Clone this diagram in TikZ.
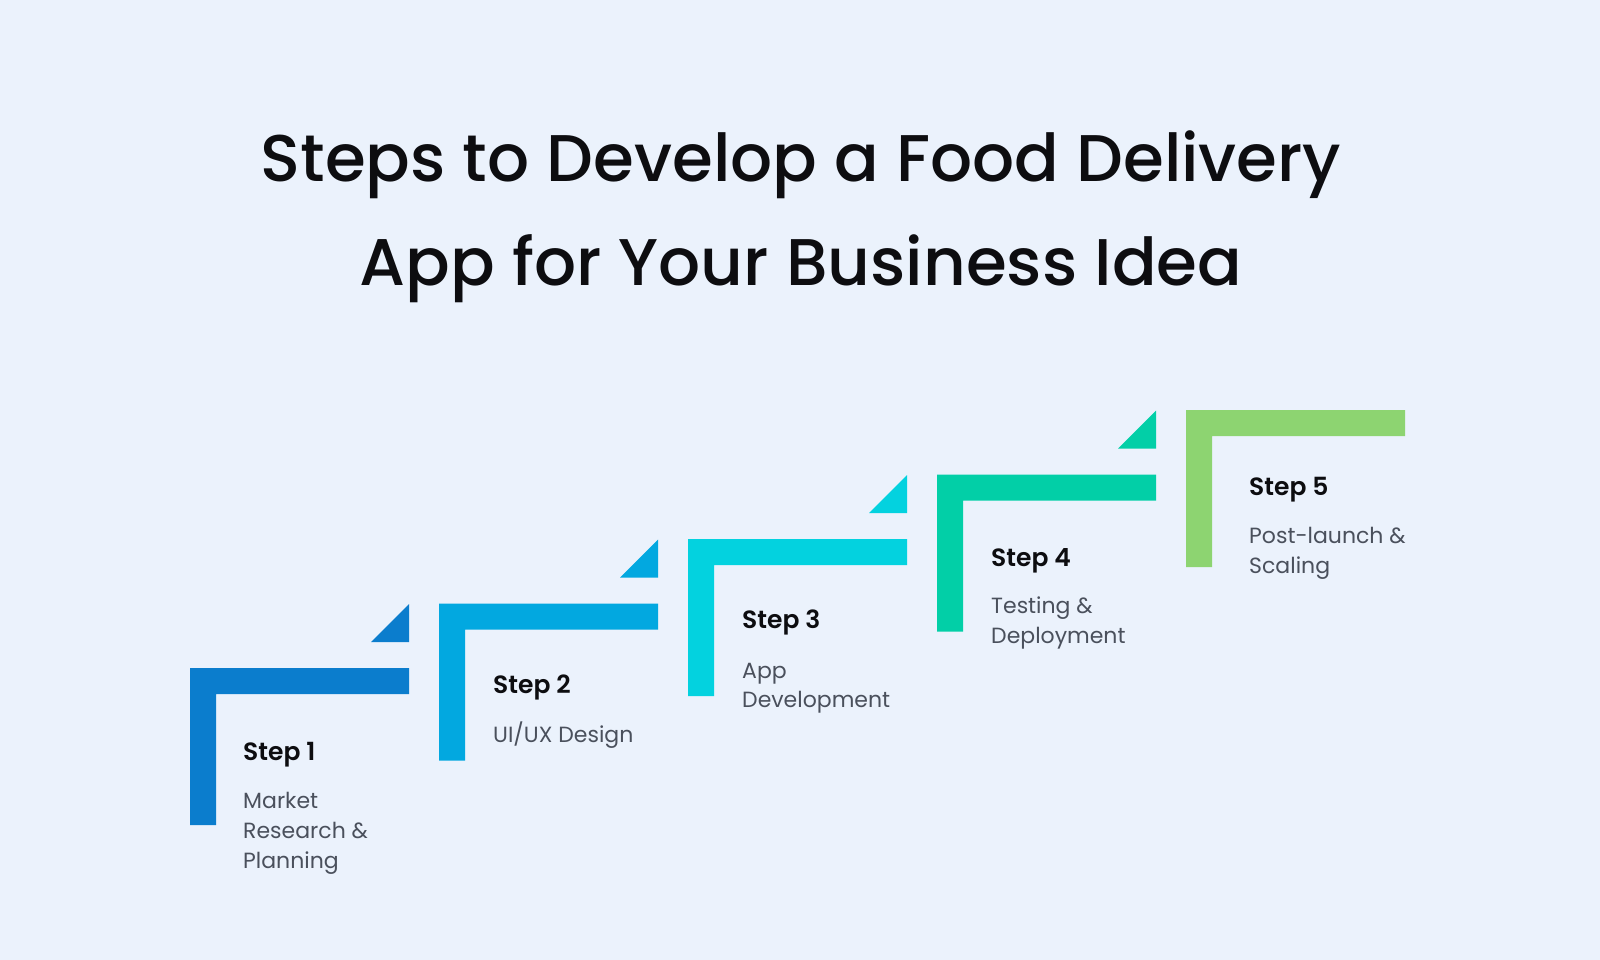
\documentclass[tikz,border=0pt]{standalone}
\usepackage{fontspec}
\setmainfont{Poppins}
\newfontfamily\titlefont{Poppins Medium}
\newfontfamily\headfont{Poppins SemiBold}
\definecolor{bg}{HTML}{EBF2FC}
\definecolor{cA}{HTML}{0B7DCD}
\definecolor{cB}{HTML}{02A8E0}
\definecolor{cC}{HTML}{03D2DF}
\definecolor{cD}{HTML}{02CFA7}
\definecolor{cE}{HTML}{8DD471}
\definecolor{ink}{HTML}{0D0D10}
\definecolor{descgray}{HTML}{4A505C}
\tikzset{
  titletext/.style={anchor=base, inner sep=0pt, text=ink, font=\titlefont\fontsize{66}{80}\selectfont},
  headtext/.style={anchor=base west, inner sep=0pt, text=ink, font=\headfont\fontsize{25}{30}\selectfont},
  desctext/.style={anchor=base west, inner sep=0pt, text=descgray, font=\fontsize{22}{29.5}\selectfont},
}
\begin{document}
\begin{tikzpicture}[x=1pt,y=-1pt]
\fill[bg] (0,0) rectangle (1600,960);
\useasboundingbox (0,0) rectangle (1600,960);
% brackets
\foreach \i/\c in {0/cA,1/cB,2/cC,3/cD,4/cE}{
  \pgfmathsetmacro{\L}{190+249*\i}
  \pgfmathsetmacro{\T}{668-64.5*\i}
  \fill[\c] (\L,\T) -- ++(219,0) -- ++(0,26) -- ++(-193,0) -- ++(0,131) -- ++(-26,0) -- cycle;
}
% triangles
\foreach \i/\c in {0/cA,1/cB,2/cC,3/cD}{
  \pgfmathsetmacro{\R}{190+249*\i+219}
  \pgfmathsetmacro{\T}{668-64.5*\i}
  \fill[\c] (\R,\T-26) -- ++(-38,0) -- ++(38,-38) -- cycle;
}
% title
\node[titletext] (t1) at (801,182) {Steps to Develop a Food Delivery};
\node[titletext] (t2) at (801,285) {App for Your Business Idea};
% steps
\node[headtext] (h1) at (243,760) {Step 1};
\node[desctext] (d1a) at (243,808) {Market};
\node[desctext] (d1b) at (243,838) {Research \&};
\node[desctext] (d1c) at (243,868) {Planning};
\node[headtext] (h2) at (493,693) {Step 2};
\node[desctext] (d2a) at (493,742) {UI/UX Design};
\node[headtext] (h3) at (742,628) {Step 3};
\node[desctext] (d3a) at (742,678) {App};
\node[desctext] (d3b) at (742,707) {Development};
\node[headtext] (h4) at (991,566) {Step 4};
\node[desctext] (d4a) at (991,613) {Testing \&};
\node[desctext] (d4b) at (991,643) {Deployment};
\node[headtext] (h5) at (1249,495) {Step 5};
\node[desctext] (d5a) at (1249,543) {Post-launch \&};
\node[desctext] (d5b) at (1249,573) {Scaling};
\end{tikzpicture}
\end{document}
